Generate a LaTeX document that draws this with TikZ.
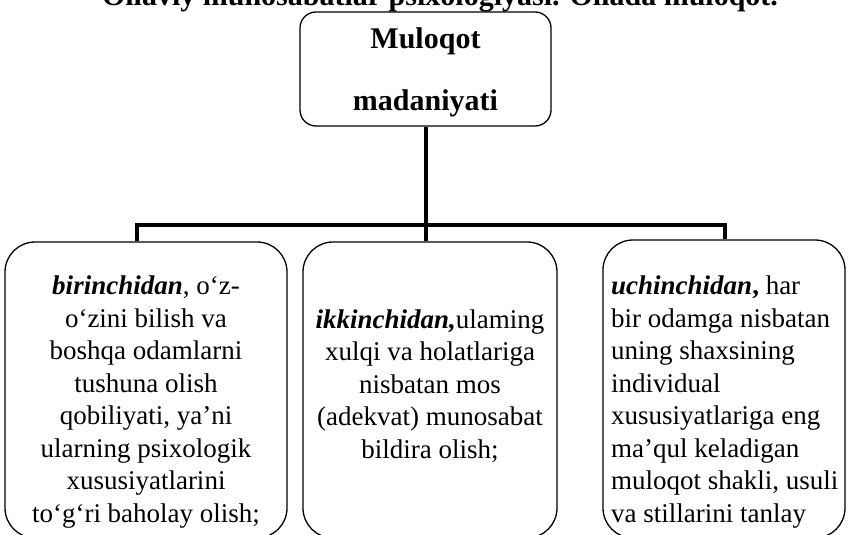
\documentclass[tikz,border=0pt]{standalone}
\usepackage{fontspec}
\setmainfont{Liberation Serif}
\begin{document}
\begin{tikzpicture}[x=1pt,y=-1pt,
  box/.style={draw, line width=1.3pt, rounded corners=30pt, inner sep=0pt},
  topbox/.style={draw, line width=1.3pt, rounded corners=16pt, inner sep=0pt},
  txt/.style={inner sep=0pt, font=\fontsize{27}{32.5}\selectfont},
  conn/.style={line width=3.2pt}]
\useasboundingbox (0,0) rectangle (849,535);
\begin{scope}
\clip (0,0) rectangle (849,535);
\node[inner sep=0pt, anchor=base, font=\bfseries\fontsize{30}{34}\selectfont] (title) at (440,6) {Oilaviy munosabatlar psixologiyasi. Oilada muloqot.};
\node[topbox, minimum width=251pt, minimum height=114pt] (top) at (425.5,69) {};
\node[inner sep=0pt, align=center, font=\bfseries\fontsize{30}{62}\selectfont] (toptxt) at (425.5,72) {Muloqot\\madaniyati};
\node[box, minimum width=282pt, minimum height=296pt] (b1) at (146,390) {};
\node[box, minimum width=254pt, minimum height=296pt] (b2) at (430,390) {};
\node[box, minimum width=242pt, minimum height=298pt] (b3) at (724,389) {};
\node[txt, align=center] (t1) at (146,402) {\textbf{\textit{birinchidan}}, o‘z-\\o‘zini bilish va\\boshqa odamlarni\\tushuna olish\\qobiliyati, ya’ni\\ularning psixologik\\xususiyatlarini\\to‘g‘ri baholay olish;};
\node[txt, align=center] (t2) at (430,386) {\textbf{\textit{ikkinchidan,}}ulaming\\xulqi va holatlariga\\nisbatan mos\\(adekvat) munosabat\\bildira olish;};
\node[txt, align=left, anchor=west] (t3) at (611,402) {\textbf{\textit{uchinchidan},} har\\bir odamga nisbatan\\uning shaxsining\\individual\\xususiyatlariga eng\\ma’qul keladigan\\muloqot shakli, usuli\\va stillarini tanlay};
\coordinate (hl) at (137,225);
\coordinate (hm) at (426,225);
\coordinate (hr) at (725,225);
\draw[conn] (top.south -| hm) -- (hm);
\draw[conn, line cap=rect] (hl) -- (hr);
\draw[conn] (hl) -- (hl |- b1.north);
\draw[conn] (hm) -- (hm |- b2.north);
\draw[conn] (hr) -- (hr |- b3.north);
\end{scope}
\end{tikzpicture}
\end{document}
